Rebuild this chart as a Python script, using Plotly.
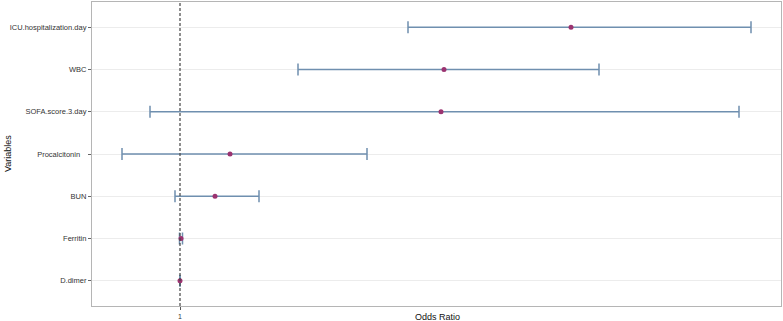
import plotly.graph_objects as go

variables = ["ICU.hospitalization.day", "WBC", "SOFA.score.3.day",
             "Procalcitonin\u00a0\u00a0\u00a0", "BUN", "Ferritin", "D.dimer"]
odds_ratio = [4.91, 3.64, 3.61, 1.50, 1.35, 1.01, 1.00]
ci_lower = [3.28, 2.18, 0.70, 0.42, 0.95, 0.995, 0.998]
ci_upper = [6.71, 5.19, 6.59, 2.87, 1.79, 1.025, 1.002]
x_ticks = [1]

err_plus = [u - o for u, o in zip(ci_upper, odds_ratio)]
err_minus = [o - l for o, l in zip(odds_ratio, ci_lower)]

W, H = 783, 321
ML, MR, MT, MB = 92, 2, 2, 15

fig = go.Figure()
fig.add_trace(go.Scatter(
    x=odds_ratio, y=variables, mode="markers",
    marker=dict(size=5, color="#9b3370"),
    error_x=dict(type="data", symmetric=False, array=err_plus, arrayminus=err_minus,
                 color="#6f8faf", thickness=1.5, width=6),
    showlegend=False, hoverinfo="skip",
))

fig.add_shape(type="line", x0=1, x1=1, y0=0, y1=1, xref="x", yref="paper",
              line=dict(color="#444444", width=1.2, dash="3px,2px"))

fig.add_annotation(text="Odds Ratio", x=(437 - ML) / (W - ML - MR), y=-4 / (H - MT - MB),
                   xref="paper", yref="paper",
                   xanchor="center", yanchor="top", showarrow=False,
                   font=dict(size=9, color="#111111"))
fig.add_annotation(text="Variables", x=(8 - ML) / (W - ML - MR), y=0.5,
                   xref="paper", yref="paper",
                   xanchor="center", yanchor="middle", showarrow=False, textangle=-90,
                   font=dict(size=9, color="#111111"))

fig.update_layout(
    width=W, height=H,
    margin=dict(l=ML, r=MR, t=MT, b=MB, autoexpand=False),
    plot_bgcolor="white", paper_bgcolor="white",
    font=dict(family="Liberation Sans, Arial, sans-serif", size=8, color="#333333"),
)

fig.update_xaxes(
    range=[0.12, 7.01], tickvals=x_ticks, ticktext=[str(t) for t in x_ticks],
    showgrid=False, zeroline=False, showline=True, linecolor="#b5b5b5", linewidth=1.2,
    mirror=True, ticks="outside", ticklen=3, tickcolor="#555555",
    tickfont=dict(size=7, color="#333333"), automargin=False,
)
fig.update_yaxes(
    type="category", categoryorder="array", categoryarray=variables[::-1],
    range=[-0.6, 6.6], showgrid=True, gridcolor="#ececec", gridwidth=1,
    zeroline=False, showline=True, linecolor="#b5b5b5", linewidth=1.2, mirror=True,
    ticks="outside", ticklen=3, tickcolor="#666666",
    tickfont=dict(size=7.5, color="#333333"), automargin=False,
)

fig.write_html("out.html", config={"displayModeBar": False},
               post_script="document.body.style.margin='0px';")
